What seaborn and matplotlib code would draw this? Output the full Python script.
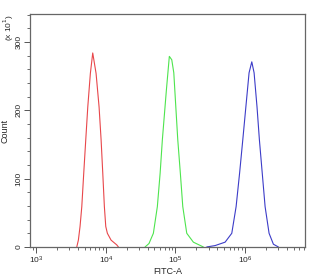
import numpy as np
import pandas as pd
import seaborn as sns
import matplotlib
matplotlib.use("Agg")
from matplotlib import pyplot as plt
from matplotlib.ticker import LogLocator, MultipleLocator, NullFormatter

# histogram outlines: log10(FITC-A) and count (x10)
red_log = [3.584, 3.607, 3.631, 3.656, 3.684, 3.713, 3.742, 3.779, 3.813, 3.861, 3.904, 3.933,
           3.957, 3.980, 4.0, 4.023, 4.076, 4.158, 4.181]
red_cnt = [0, 10, 30, 59, 108, 157, 205, 254, 284, 254, 205, 157, 108, 59, 30, 20, 10, 3, 0]

green_log = [4.564, 4.62, 4.683, 4.740, 4.78, 4.812, 4.87, 4.912, 4.947, 4.976, 5.005, 5.033,
             5.07, 5.105, 5.162, 5.257, 5.400]
green_cnt = [0, 5, 20, 59, 108, 157, 230, 279, 274, 255, 205, 157, 108, 59, 20, 7, 0]

blue_log = [5.449, 5.568, 5.712, 5.808, 5.870, 5.92, 5.966, 6.01, 6.056, 6.095, 6.128, 6.17,
            6.204, 6.245, 6.286, 6.343, 6.405, 6.476]
blue_cnt = [0, 2, 7, 20, 59, 108, 157, 205, 255, 271, 255, 205, 157, 108, 59, 20, 4, 0]

colors = ["#e8474b", "#4ee44e", "#3c3cc8"]

sns.set_style("white")
plt.rcParams['font.family'] = ['Liberation Sans', 'DejaVu Sans']

fig = plt.figure(figsize=(3.1, 2.75), dpi=100)
ax = fig.add_axes([0.097, 0.102, 0.887, 0.847])

for lg, cn, c in [(red_log, red_cnt, colors[0]), (green_log, green_cnt, colors[1]), (blue_log, blue_cnt, colors[2])]:
    df = pd.DataFrame({"x": 10 ** np.array(lg), "y": cn})
    sns.lineplot(data=df, x="x", y="y", color=c, lw=0.8, ax=ax, sort=False)

ax.set_xscale("log")
ax.set_xlim(10 ** 2.914, 10 ** 6.859)
ax.set_ylim(0, 341)

ax.xaxis.set_major_locator(LogLocator(base=10, numticks=10))
ax.xaxis.set_minor_locator(LogLocator(base=10, subs=np.arange(2, 10), numticks=10))
ax.xaxis.set_minor_formatter(NullFormatter())
ax.yaxis.set_major_locator(MultipleLocator(100))
ax.yaxis.set_minor_locator(MultipleLocator(20))

ax.tick_params(axis="both", which="major", length=4, width=0.7, color="#555555", labelsize=6, pad=1.5, direction="out")
ax.tick_params(axis="both", which="minor", length=2, width=0.6, color="#555555", direction="out")
ax.tick_params(axis="x", bottom=True, which="both")
ax.tick_params(axis="y", left=True, which="both")
for lbl in ax.get_yticklabels():
    lbl.set_rotation(90)
    lbl.set_va("center")

for s in ax.spines.values():
    s.set_color("#666666")
    s.set_linewidth(0.9)

ax.set_xlabel("FITC-A", fontsize=6.5, labelpad=1)
ax.set_ylabel("Count", fontsize=6.5, labelpad=4)
fig.text(0.03, 0.9, r"(x 10$^1$)", rotation=90, fontsize=6, ha="center", va="center")

fig.savefig("out.png", dpi=100)
